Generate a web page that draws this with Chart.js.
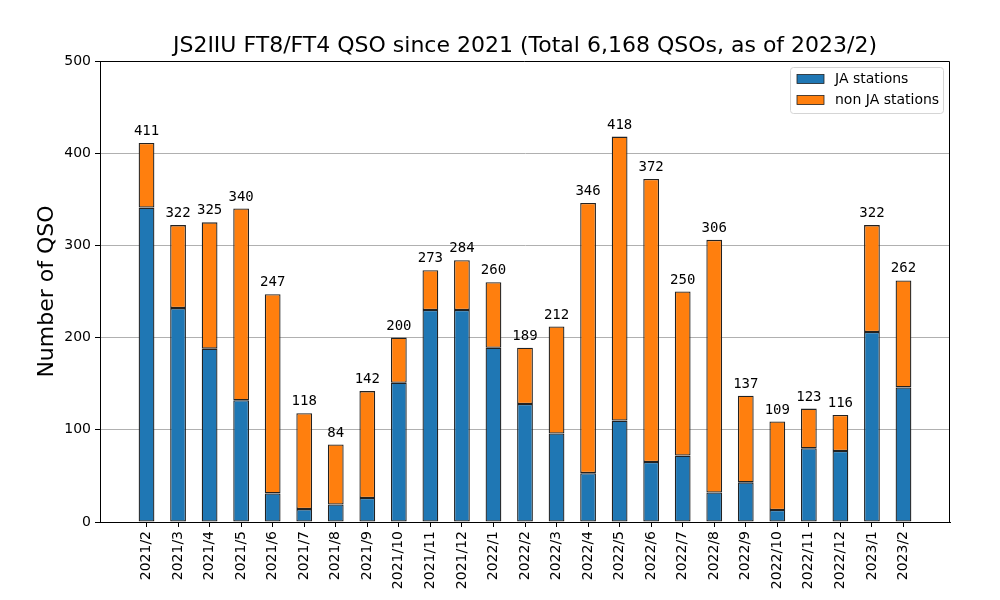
<!DOCTYPE html>
<html>
<head>
<meta charset="utf-8">
<script src="https://cdn.jsdelivr.net/npm/chart.js@4.4.1/dist/chart.umd.min.js"></script>
<style>
  html, body { margin: 0; padding: 0; background: #ffffff; }
  #wrap { width: 1000px; height: 600px; }
</style>
</head>
<body>
<div id="wrap"><canvas id="qsoChart" width="1000" height="600"></canvas></div>
<script>
const months = [
  '2021/2', '2021/3', '2021/4', '2021/5', '2021/6', '2021/7', '2021/8', '2021/9',
  '2021/10', '2021/11', '2021/12', '2022/1', '2022/2', '2022/3', '2022/4', '2022/5',
  '2022/6', '2022/7', '2022/8', '2022/9', '2022/10', '2022/11', '2022/12', '2023/1', '2023/2',
];
const totals = [411, 322, 325, 340, 247, 118, 84, 142, 200, 273, 284, 260, 189, 212, 346, 418, 372, 250, 306, 137, 109, 123, 116, 322, 262];
const jaStations = [341, 232, 188, 132, 31, 14, 19, 26, 151, 230, 230, 189, 128, 96, 53, 110, 65, 72, 32, 43, 13, 80, 77, 206, 146];
const nonJaStations = [70, 90, 137, 208, 216, 104, 65, 116, 49, 43, 54, 71, 61, 116, 293, 308, 307, 178, 274, 94, 96, 43, 39, 116, 116];
const yTicks = [0, 100, 200, 300, 400, 500];

const SANS = '"DejaVu Sans", sans-serif';
const MONO = '"DejaVu Sans Mono", monospace';
const BLUE = '#1f77b4';
const ORANGE = '#ff7f0e';
const EDGE = '#222222';

// frame, title, totals above bars and the legend box
const decorPlugin = {
  id: 'decor',
  afterDatasetsDraw(chart) {
    const { ctx, chartArea } = chart;
    const xs = chart.scales.x;
    const ys = chart.scales.y;
    ctx.save();

    ctx.fillStyle = '#000';
    ctx.textAlign = 'center';
    ctx.textBaseline = 'alphabetic';
    ctx.font = `14px ${MONO}`;
    totals.forEach((total, i) => {
      ctx.fillText(String(total), xs.getPixelForValue(i), ys.getPixelForValue(total) - 8);
    });

    ctx.font = `22px ${SANS}`;
    ctx.fillText('JS2IIU FT8/FT4 QSO since 2021 (Total 6,168 QSOs, as of 2023/2)', (chartArea.left + chartArea.right) / 2, 52);

    // top and right edges of the frame (left/bottom come from the axis borders)
    ctx.strokeStyle = '#000';
    ctx.lineWidth = 1;
    ctx.beginPath();
    ctx.moveTo(chartArea.left, chartArea.top + 0.5);
    ctx.lineTo(chartArea.right - 0.5, chartArea.top + 0.5);
    ctx.lineTo(chartArea.right - 0.5, chartArea.bottom);
    ctx.stroke();

    // legend
    const items = [
      { label: 'JA stations', color: BLUE },
      { label: 'non JA stations', color: ORANGE },
    ];
    const boxX = 790.5;
    const boxY = 67.5;
    const boxW = 153;
    const boxH = 46;
    ctx.beginPath();
    ctx.roundRect(boxX, boxY, boxW, boxH, 3);
    ctx.fillStyle = 'rgba(255,255,255,0.8)';
    ctx.fill();
    ctx.strokeStyle = '#d5d5d5';
    ctx.stroke();
    ctx.font = `14px ${SANS}`;
    ctx.textAlign = 'left';
    ctx.textBaseline = 'middle';
    items.forEach((item, i) => {
      const cy = boxY + 12 + i * 21;
      ctx.fillStyle = item.color;
      ctx.fillRect(797, cy - 5, 27, 9);
      ctx.strokeStyle = EDGE;
      ctx.lineWidth = 0.8;
      ctx.strokeRect(797, cy - 5, 27, 9);
      ctx.fillStyle = '#000';
      ctx.fillText(item.label, 835, cy);
    });
    ctx.restore();
  },
};

new Chart(document.getElementById('qsoChart'), {
  type: 'bar',
  data: {
    datasets: [
      {
        label: 'JA stations',
        data: jaStations.map((v, i) => ({ x: i, y: v })),
        backgroundColor: BLUE,
        borderColor: EDGE,
        borderWidth: 1.3,
        borderSkipped: false,
        barPercentage: 0.5,
        categoryPercentage: 1,
      },
      {
        label: 'non JA stations',
        data: nonJaStations.map((v, i) => ({ x: i, y: v })),
        backgroundColor: ORANGE,
        borderColor: EDGE,
        borderWidth: 1.3,
        borderSkipped: false,
        barPercentage: 0.5,
        categoryPercentage: 1,
      },
    ],
  },
  options: {
    responsive: false,
    animation: false,
    devicePixelRatio: 1,
    layout: { padding: { top: 61, right: 50, left: 0, bottom: 0 } },
    plugins: {
      legend: { display: false },
      title: { display: false },
      tooltip: { enabled: false },
    },
    scales: {
      x: {
        type: 'linear',
        stacked: true,
        offset: false,
        min: -1.475,
        max: 25.475,
        afterBuildTicks(scale) {
          scale.ticks = months.map((m, i) => ({ value: i }));
        },
        afterFit(scale) {
          scale.height = 78;
        },
        ticks: {
          autoSkip: false,
          minRotation: 90,
          maxRotation: 90,
          color: '#000',
          padding: 4,
          font: { family: SANS, size: 14 },
          callback: (value) => months[value],
        },
        grid: { drawOnChartArea: false, offset: false, tickLength: 5, tickColor: '#000' },
        border: { color: '#000', width: 1 },
      },
      y: {
        stacked: true,
        min: 0,
        max: 500,
        afterBuildTicks(scale) {
          scale.ticks = yTicks.map((v) => ({ value: v }));
        },
        afterFit(scale) {
          scale.width = 100;
        },
        ticks: {
          color: '#000',
          padding: 4,
          font: { family: SANS, size: 14 },
        },
        title: {
          display: true,
          text: 'Number of QSO',
          color: '#000',
          font: { family: SANS, size: 22 },
          padding: { top: 34, bottom: 0 },
        },
        grid: {
          color: (c) => (c.tick && (c.tick.value === 0 || c.tick.value === 500) ? 'rgba(0,0,0,0)' : '#b0b0b0'),
          lineWidth: 1,
          tickLength: 5,
          tickColor: '#000',
        },
        border: { color: '#000', width: 1 },
      },
    },
  },
  plugins: [decorPlugin],
});
</script>
</body>
</html>
